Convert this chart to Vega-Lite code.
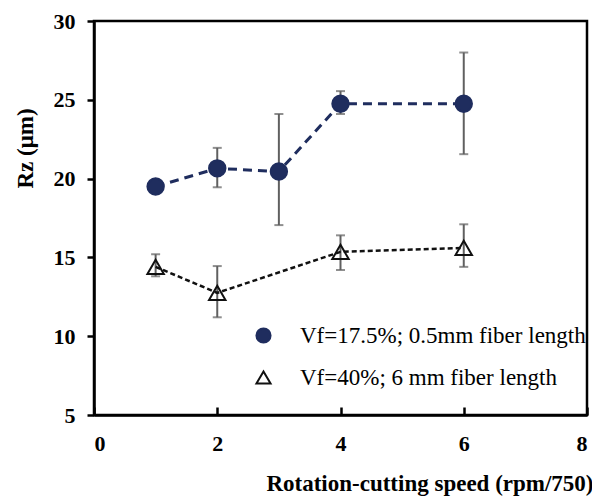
{
  "$schema": "https://vega.github.io/schema/vega-lite/v6.json",
  "width": 493,
  "height": 394,
  "autosize": "none",
  "padding": {"left": 94, "top": 21, "right": 5, "bottom": 82},
  "background": "white",
  "config": {
    "view": {"stroke": "#000000", "strokeWidth": 2.5},
    "axis": {"grid": false, "domainColor": "#000000", "domainWidth": 2.5, "tickColor": "#000000", "tickWidth": 2.5, "labelFont": "Liberation Serif", "labelFontWeight": "bold", "labelFontSize": 22, "labelColor": "#000000", "titleFont": "Liberation Serif", "titleFontWeight": "bold", "titleFontSize": 23, "titleColor": "#000000"}
  },
  "data": {"values": [
    {"series": "Vf=17.5%; 0.5mm fiber length", "x": 1, "y": 19.5, "lo": 19.5, "hi": 19.5},
    {"series": "Vf=17.5%; 0.5mm fiber length", "x": 2, "y": 20.65, "lo": 19.45, "hi": 21.95},
    {"series": "Vf=17.5%; 0.5mm fiber length", "x": 3, "y": 20.45, "lo": 17.05, "hi": 24.1},
    {"series": "Vf=17.5%; 0.5mm fiber length", "x": 4, "y": 24.75, "lo": 24.1, "hi": 25.55},
    {"series": "Vf=17.5%; 0.5mm fiber length", "x": 6, "y": 24.75, "lo": 21.55, "hi": 28.0},
    {"series": "Vf=40%; 6 mm fiber length", "x": 1, "y": 14.4, "lo": 13.8, "hi": 15.2},
    {"series": "Vf=40%; 6 mm fiber length", "x": 2, "y": 12.75, "lo": 11.2, "hi": 14.45},
    {"series": "Vf=40%; 6 mm fiber length", "x": 4, "y": 15.35, "lo": 14.2, "hi": 16.4},
    {"series": "Vf=40%; 6 mm fiber length", "x": 6, "y": 15.6, "lo": 14.4, "hi": 17.1}
  ]},
  "encoding": {
    "x": {"field": "x", "type": "quantitative", "scale": {"domain": [0, 8], "nice": false}, "axis": {"values": [0, 2, 4, 6, 8], "tickSize": -8, "labelPadding": 26, "title": "Rotation-cutting speed (rpm/750)", "titleAnchor": "end", "titleAlign": "right", "titleX": 499, "titleY": 68, "titleBaseline": "middle"}}
  },
  "layer": [
    {
      "mark": {"type": "rule", "color": "#606060", "strokeWidth": 2},
      "encoding": {
        "y": {"field": "lo", "type": "quantitative", "scale": {"domain": [5, 30], "nice": false}, "axis": {"values": [5, 10, 15, 20, 25, 30], "tickSize": 7, "labelPadding": 12, "title": "Rz (μm)", "titleX": -69, "titleY": 127, "titleBaseline": "middle", "titleAlign": "center"}},
        "y2": {"field": "hi"}
      }
    },
    {
      "mark": {"type": "tick", "orient": "horizontal", "color": "#606060", "size": 9, "thickness": 2},
      "encoding": {"y": {"field": "lo", "type": "quantitative"}}
    },
    {
      "mark": {"type": "tick", "orient": "horizontal", "color": "#606060", "size": 9, "thickness": 2},
      "encoding": {"y": {"field": "hi", "type": "quantitative"}}
    },
    {
      "mark": {"type": "line"},
      "encoding": {
        "y": {"field": "y", "type": "quantitative"},
        "color": {"field": "series", "type": "nominal", "scale": {"domain": ["Vf=17.5%; 0.5mm fiber length", "Vf=40%; 6 mm fiber length"], "range": ["#1f2d5e", "#111111"]},
          "legend": {
            "title": null, "orient": "none", "legendX": 158, "legendY": 303, "padding": 0,
            "symbolSize": 200, "symbolStrokeWidth": 2, "labelFont": "Liberation Serif", "labelFontSize": 23, "labelColor": "#000000", "labelOffset": 25, "rowPadding": 18, "labelLimit": 400
          }
        },
        "strokeDash": {"field": "series", "type": "nominal", "scale": {"domain": ["Vf=40%; 6 mm fiber length", "Vf=17.5%; 0.5mm fiber length"], "range": [[5, 3], [9, 6]]}, "legend": null},
        "strokeWidth": {"field": "series", "type": "ordinal", "scale": {"domain": ["Vf=40%; 6 mm fiber length", "Vf=17.5%; 0.5mm fiber length"], "range": [2.5, 3]}, "legend": null}
      }
    },
    {
      "mark": {"type": "point", "strokeWidth": 2, "size": 270, "opacity": 1},
      "encoding": {
        "y": {"field": "y", "type": "quantitative"},
        "fill": {"field": "series", "type": "nominal", "scale": {"domain": ["Vf=17.5%; 0.5mm fiber length", "Vf=40%; 6 mm fiber length"], "range": ["#1f2d5e", "transparent"]}},
        "stroke": {"field": "series", "type": "nominal", "scale": {"domain": ["Vf=17.5%; 0.5mm fiber length", "Vf=40%; 6 mm fiber length"], "range": ["#1f2d5e", "#111111"]}},
        "shape": {"field": "series", "type": "nominal", "scale": {"domain": ["Vf=17.5%; 0.5mm fiber length", "Vf=40%; 6 mm fiber length"], "range": ["circle", "triangle-up"]}}
      }
    }
  ]
}
